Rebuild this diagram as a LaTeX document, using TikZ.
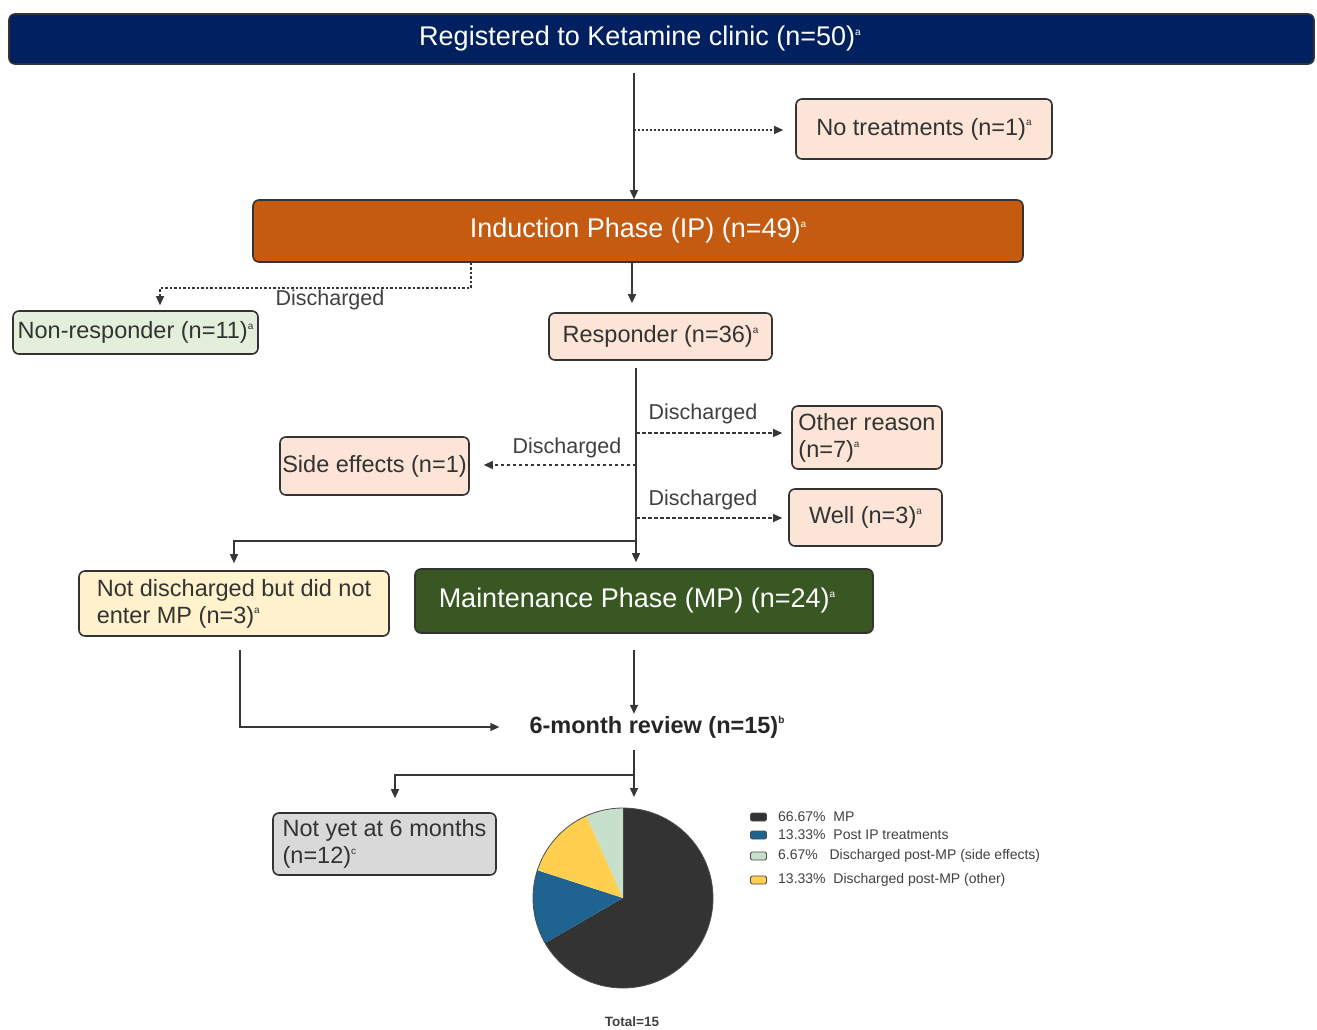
\documentclass[tikz,border=0pt]{standalone}
\usepackage{fontspec}
\setmainfont{Liberation Sans}
\usetikzlibrary{arrows.meta}
\definecolor{navy}{RGB}{0,32,96}
\definecolor{orng}{RGB}{197,90,17}
\definecolor{peach}{RGB}{252,228,214}
\definecolor{lgreen}{RGB}{226,239,218}
\definecolor{lyellow}{RGB}{255,242,204}
\definecolor{dgreen}{RGB}{56,87,35}
\definecolor{lgray}{RGB}{217,217,217}
\definecolor{piedark}{RGB}{51,51,51}
\definecolor{pieblue}{RGB}{31,99,145}
\definecolor{piegreen}{RGB}{198,224,204}
\definecolor{pieyellow}{RGB}{255,208,79}
\definecolor{linec}{RGB}{55,55,55}
\newcommand\supx[1]{\raisebox{0.75ex}{\fontsize{10}{10}\selectfont #1}}
\begin{document}
\begin{tikzpicture}[x=1pt,y=-1pt,
  box/.style={draw=black!80, line width=1.6pt, rounded corners=6pt, inner sep=3pt,
    font=\fontsize{23.5}{27}\selectfont, text=black!80},
  bigbox/.style={box, text=white, font=\fontsize{27}{31}\selectfont},
  arr/.style={draw=linec, line width=1.4pt, -{Triangle[length=9pt,width=8pt]}},
  dasharr/.style={draw=linec, line width=1.2pt, dash pattern=on 3.5pt off 2.5pt, -{Triangle[length=9pt,width=8pt]}},
  lbl/.style={font=\fontsize{21.5}{24}\selectfont, text=black!75, inner sep=1pt},
  legsq/.style={draw=black!70, line width=0.8pt, rounded corners=1.5pt, minimum width=16pt, minimum height=8pt, inner sep=0pt},
  legtx/.style={font=\fontsize{14}{16}\selectfont, text=black!75, anchor=west, inner sep=0pt}
]
\useasboundingbox (0,0) rectangle (1317,1030);

% nodes
\node[bigbox, fill=navy, minimum width=1305pt, minimum height=50pt] (reg) at (661.5,39) {\raisebox{-2pt}{Registered to Ketamine clinic (n=50)\supx{a}}\hspace*{43pt}};
\node[box, fill=peach, minimum width=256pt, minimum height=60pt] (nt) at (924,129) {No treatments (n=1)\supx{a}};
\node[bigbox, fill=orng, minimum width=770pt, minimum height=62pt] (ip) at (638,231) {Induction Phase (IP) (n=49)\supx{a}};
\node[box, fill=lgreen, minimum width=245pt, minimum height=43pt, inner sep=0pt] (nr) at (135.5,332.5) {Non-responder (n=11)\supx{a}};
\node[box, fill=peach, minimum width=223pt, minimum height=47pt] (resp) at (660.5,336.5) {Responder (n=36)\supx{a}};
\node[box, fill=peach, minimum width=150pt, minimum height=63pt, align=left, inner sep=1pt] (other) at (867,437.5) {Other reason\\(n=7)\supx{a}};
\node[box, fill=peach, minimum width=189pt, minimum height=58pt, inner sep=0pt] (side) at (374.5,466) {Side effects (n=1)};
\node[box, fill=peach, minimum width=153pt, minimum height=57pt] (well) at (865.5,517.5) {Well (n=3)\supx{a}};
\node[box, fill=lyellow, minimum width=310pt, minimum height=65pt, align=left] (nd) at (234,603.5) {Not discharged but did not\\enter MP (n=3)\supx{a}};
\node[bigbox, fill=dgreen, minimum width=458pt, minimum height=64pt] (mp) at (644,601) {Maintenance Phase (MP) (n=24)\supx{a}\hspace*{14pt}};
\node[font=\fontsize{23.5}{27}\selectfont\bfseries, text=black!85, inner sep=2pt] (rev) at (657,727) {6-month review (n=15)\supx{b}};
\node[box, fill=lgray, minimum width=223pt, minimum height=62pt, align=left, inner sep=1pt] (ny) at (384.5,844) {Not yet at 6 months\\(n=12)\supx{c}};

% junction coordinates
\coordinate (sp1) at (634,0);
\coordinate (b1) at (634,130);
\coordinate (d1) at (471,0);
\coordinate (d2) at (160,288);
\coordinate (sp2) at (632,0);
\coordinate (sp3) at (636,0);
\coordinate (bo) at (636,433);
\coordinate (bs) at (636,465);
\coordinate (bw) at (636,518);
\coordinate (bn) at (636,541);
\coordinate (l1) at (240,0);
\coordinate (sp4) at (634,0);
\coordinate (br) at (634,775);
\coordinate (nyx) at (395,0);
\coordinate (pietop) at (634,808);
\coordinate (pc) at (623,898);

% connectors
\draw[arr, shorten <=8pt] (reg.south -| sp1) -- (ip.north -| sp1);
\draw[dasharr, dash pattern=on 2pt off 2pt, shorten >=12pt] (b1) -- (b1 -| nt.west);
\draw[dasharr, dash pattern=on 2.5pt off 2pt, shorten >=5pt] (ip.south -| d1) |- (d2) -- (nr.north -| d2);
\node[lbl, anchor=north] (lab1) at (330,289) {Discharged};
\draw[arr, shorten >=9pt] (ip.south -| sp2) -- (resp.north -| sp2);
\draw[arr, shorten <=7pt, shorten >=6pt] (resp.south -| sp3) -- (mp.north -| sp3);
\draw[dasharr, shorten >=9pt] (bo) -- (bo -| other.west);
\node[lbl, anchor=south] (lab2) at (703,425) {Discharged};
\draw[dasharr, shorten >=14pt] (bs) -- (bs -| side.east);
\node[lbl, anchor=south] (lab3) at (567,459) {Discharged};
\draw[dasharr, shorten >=6pt] (bw) -- (bw -| well.west);
\node[lbl, anchor=south] (lab4) at (703,511) {Discharged};
\draw[arr, shorten >=7pt] (bn) -| (nd.north);
\draw[arr, shorten <=16pt] (mp.south -| sp4) -- (rev.north -| sp4);
\draw[arr, shorten <=13pt, shorten >=28pt] (nd.south -| l1) |- (rev.west);
\draw[arr, shorten <=10pt, shorten >=11pt] (rev.south -| sp4) -- (pietop);
\draw[arr, shorten >=14pt] (br) -| (ny.north -| nyx);

% pie chart
\begin{scope}[shift={(pc)}, yscale=-1]
  \fill[piedark] (0,0) -- (90:90) arc[start angle=90, end angle=-150, radius=90] -- cycle;
  \fill[pieblue] (0,0) -- (210:90) arc[start angle=210, end angle=162, radius=90] -- cycle;
  \fill[pieyellow] (0,0) -- (162:90) arc[start angle=162, end angle=114, radius=90] -- cycle;
  \fill[piegreen] (0,0) -- (114:90) arc[start angle=114, end angle=90, radius=90] -- cycle;
  \draw[black!70, line width=0.8pt] (0,0) circle[radius=90];
\end{scope}
\node[font=\fontsize{13.5}{15}\selectfont\bfseries, text=black!75] (tot) at (632,1022) {Total=15};

% legend
\node[legsq, fill=piedark] (s1) at (758.5,817) {};
\node[legtx] (t1) at (778,817) {66.67\%\ \ MP};
\node[legsq, fill=pieblue] (s2) at (758.5,835) {};
\node[legtx] (t2) at (778,835) {13.33\%\ \ Post IP treatments};
\node[legsq, fill=piegreen] (s3) at (758.5,856) {};
\node[legtx] (t3) at (778,856) {6.67\%\ \ \ Discharged post-MP (side effects)};
\node[legsq, fill=pieyellow] (s4) at (758.5,880) {};
\node[legtx] (t4) at (778,880) {13.33\%\ \ Discharged post-MP (other)};
\end{tikzpicture}
\end{document}
